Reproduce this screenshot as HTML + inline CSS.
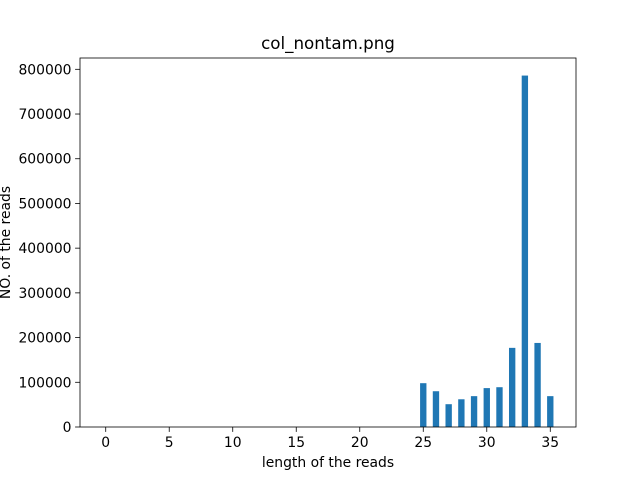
<!DOCTYPE html>
<html><head><meta charset="utf-8"><style>
body{margin:0;background:#fff;font-family:"DejaVu Sans","Liberation Sans",sans-serif}
svg text{font-family:"DejaVu Sans","Liberation Sans",sans-serif}
</style></head><body>
<svg id="chart" width="640" height="480">
<rect x="0" y="0" width="640" height="480" fill="#fff"/>
</svg>
<script>
const categories=[25,26,27,28,29,30,31,32,33,34,35];
const counts=[98000,80000,51000,62000,69000,87000,89000,177000,786000,188000,69000];
const xTicks=[0,5,10,15,20,25,30,35];
const yTicks=[0,100000,200000,300000,400000,500000,600000,700000,800000];
const L=80,R=576,T=58,B=427;
const xmin=-2.025,xmax=37.025,ymax=825300;
const sx=v=>L+(v-xmin)/(xmax-xmin)*(R-L);
const sy=v=>B-v/ymax*(B-T);
const svg=document.getElementById('chart');
const NS='http://www.w3.org/2000/svg';
function mk(t,a){const e=document.createElementNS(NS,t);for(const k in a)e.setAttribute(k,a[k]);svg.appendChild(e);return e;}
categories.forEach((c,i)=>{
  const r=mk('rect',{x:sx(c-0.25),y:sy(counts[i]),width:sx(c+0.25)-sx(c-0.25),height:B-sy(counts[i]),fill:'#1f77b4'});
  
  
});
const ax=mk('rect',{x:L,y:T,width:R-L,height:B-T,fill:'none',stroke:'#000','stroke-width':0.8});


xTicks.forEach(v=>{
  const x=sx(v);
  mk('line',{x1:x,x2:x,y1:B,y2:B+4.9,stroke:'#000','stroke-width':0.8});
  const t=mk('text',{x:x,y:B+20,'text-anchor':'middle','font-size':13.9});
  t.textContent=v;
  
  
});
yTicks.forEach(v=>{
  const y=sy(v);
  mk('line',{x1:L-4.9,x2:L,y1:y,y2:y,stroke:'#000','stroke-width':0.8});
  const t=mk('text',{x:L-8.5,y:y+5,'text-anchor':'end','font-size':13.9});
  t.textContent=v;
  
  
});
let t=mk('text',{x:(L+R)/2,y:49,'text-anchor':'middle','font-size':16.7});
t.textContent='col_nontam.png';


t=mk('text',{x:(L+R)/2,y:467,'text-anchor':'middle','font-size':13.9});
t.textContent='length of the reads';


t=mk('text',{x:0,y:0,'text-anchor':'middle','font-size':13.9,transform:'translate(10,'+((T+B)/2)+') rotate(-90)'});
t.textContent='NO. of the reads';


</script>
</body></html>
